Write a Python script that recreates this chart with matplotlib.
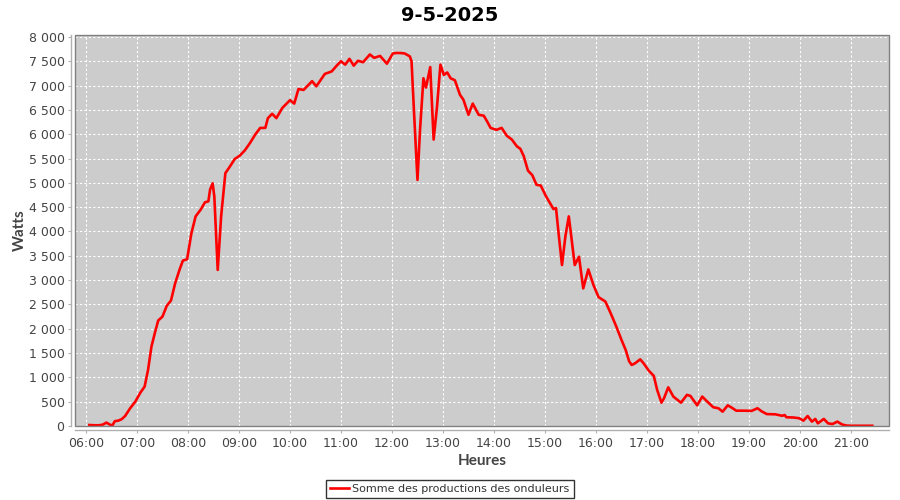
import matplotlib
matplotlib.use("Agg")
import matplotlib.pyplot as plt
from matplotlib.ticker import FuncFormatter, FixedLocator, MultipleLocator
from matplotlib.patches import Rectangle
from matplotlib.lines import Line2D

title = "9-5-2025"
x_label = "Heures"
y_label = "Watts"
series_name = "Somme des productions des onduleurs"

times = ["06:04", "06:10", "06:16", "06:20", "06:24", "06:28", "06:31", "06:34", "06:38", "06:42",
         "06:46", "06:52", "06:58", "07:04", "07:09", "07:13", "07:17", "07:21", "07:25", "07:30",
         "07:35", "07:40", "07:45", "07:50", "07:54", "07:59", "08:04", "08:09", "08:15", "08:20",
         "08:24", "08:26", "08:29", "08:31", "08:35", "08:39", "08:44", "08:48", "08:55", "09:01",
         "09:07", "09:13", "09:19", "09:25", "09:31", "09:34", "09:39", "09:44", "09:51", "10:00",
         "10:05", "10:10", "10:16", "10:26", "10:31", "10:41", "10:49", "10:55", "11:00", "11:05",
         "11:10", "11:15", "11:20", "11:26", "11:34", "11:39", "11:46", "11:54", "12:01", "12:05",
         "12:10", "12:15", "12:21", "12:23", "12:26", "12:30", "12:33", "12:37", "12:40", "12:45",
         "12:49", "12:53", "12:57", "13:01", "13:05", "13:09", "13:14", "13:20", "13:24", "13:30",
         "13:35", "13:42", "13:48", "13:52", "13:56", "14:03", "14:09", "14:15", "14:21", "14:27",
         "14:31", "14:35", "14:40", "14:45", "14:50", "14:55", "15:01", "15:06", "15:10", "15:13",
         "15:16", "15:20", "15:24", "15:28", "15:30", "15:35", "15:40", "15:45", "15:51", "15:57",
         "16:03", "16:11", "16:17", "16:24", "16:30", "16:35", "16:39", "16:42", "16:46", "16:52",
         "16:56", "17:02", "17:08", "17:12", "17:17", "17:20", "17:25", "17:31", "17:40", "17:47",
         "17:51", "17:59", "18:05", "18:11", "18:18", "18:24", "18:29", "18:35", "18:39", "18:45",
         "18:55", "19:03", "19:10", "19:15", "19:21", "19:31", "19:39", "19:42", "19:44", "19:52",
         "19:59", "20:04", "20:09", "20:14", "20:18", "20:21", "20:28", "20:33", "20:38", "20:44",
         "20:49", "20:54", "21:00", "21:05", "21:10", "21:15", "21:20", "21:25"]

watts = [20, 15, 15, 30, 70, 30, 10, 100, 110, 140,
         205, 365, 500, 685, 810, 1150, 1630, 1910, 2170, 2250,
         2470, 2580, 2940, 3210, 3400, 3430, 3960, 4310, 4450, 4600,
         4620, 4860, 4990, 4720, 3210, 4310, 5200, 5300, 5490, 5560,
         5670, 5820, 5990, 6130, 6130, 6330, 6420, 6330, 6540, 6700,
         6630, 6930, 6910, 7090, 6985, 7240, 7290, 7410, 7500, 7430,
         7550, 7410, 7510, 7480, 7640, 7570, 7610, 7450, 7660, 7670,
         7670, 7660, 7600, 7500, 6430, 5060, 6090, 7150, 6960, 7380,
         5890, 6570, 7430, 7220, 7270, 7150, 7110, 6810, 6710, 6400,
         6630, 6400, 6380, 6260, 6130, 6090, 6130, 5970, 5890, 5750,
         5700, 5550, 5250, 5160, 4960, 4945, 4730, 4580, 4460, 4480,
         3960, 3310, 3900, 4310, 4030, 3310, 3480, 2830, 3220, 2900,
         2650, 2560, 2330, 2040, 1770, 1560, 1330, 1255, 1290, 1370,
         1290, 1140, 1030, 740, 480, 570, 795, 605, 480, 640,
         620, 425, 605, 500, 385, 365, 295, 425, 385, 315,
         315, 310, 365, 300, 245, 240, 210, 225, 180, 175,
         160, 110, 205, 90, 145, 55, 145, 55, 40, 90,
         35, 10, 5, 5, 5, 5, 5, 5]

hour_ticks = list(range(6, 22))
hour_labels = [f"{h:02d}:00" for h in hour_ticks]


def to_hours(s):
    h, m = s.split(":")
    return int(h) + int(m) / 60.0


x = [to_hours(t) for t in times]

plt.rcParams['font.family'] = ['DejaVu Sans']

fig = plt.figure(figsize=(9, 5), dpi=100)
fig.patch.set_facecolor("white")
ax = fig.add_axes([75 / 900, 74 / 500, 814 / 900, 391 / 500])
ax.set_facecolor("#cccccc")

ax.plot(x, watts, color="#ff0000", lw=1.9, solid_joinstyle="round", zorder=3)

ax.set_xlim(5.785, 21.745)
ax.set_ylim(0, 8040)

ax.xaxis.set_major_locator(FixedLocator(hour_ticks))
ax.set_xticklabels(hour_labels)
ax.yaxis.set_major_locator(MultipleLocator(500))
ax.yaxis.set_major_formatter(FuncFormatter(lambda v, p: f"{v:,.0f}".replace(",", " ")))

ax.grid(True, color="white", linestyle=(0, (2, 2)), linewidth=0.8)
ax.set_axisbelow(True)

for s in ["top", "right"]:
    ax.spines[s].set_visible(False)
for s in ["left", "bottom"]:
    ax.spines[s].set_position(("outward", 3))
    ax.spines[s].set_color("#b0b0b0")
    ax.spines[s].set_linewidth(1.0)

ax.add_patch(Rectangle((0, 0), 1, 1, transform=ax.transAxes, fill=False,
                       edgecolor="#808080", linewidth=1.0, clip_on=False, zorder=5))

ax.tick_params(axis="both", colors="#b0b0b0", labelcolor="#444444", labelsize=9, length=2.5, width=0.8)
ax.tick_params(axis="y", pad=2)
ax.tick_params(axis="x", pad=2.5)

ax.set_xlabel(x_label, fontsize=11, color="#444444", fontweight="bold", family=["Lato", "DejaVu Sans"], labelpad=3)
ax.set_ylabel(y_label, fontsize=11, color="#444444", fontweight="bold", family=["Lato", "DejaVu Sans"], labelpad=1)

fig.suptitle(title, x=0.5, y=0.988, fontsize=14, fontweight="bold", color="black")

handle = Line2D([], [], color="#ff0000", lw=1.9)
leg = fig.legend([handle], [series_name], loc="lower center", bbox_to_anchor=(0.5, 0.0),
                 frameon=True, fancybox=False, fontsize=8, handlelength=1.7,
                 handletextpad=0.3, borderpad=0.35, borderaxespad=0.2)
leg.get_frame().set_edgecolor("black")
leg.get_frame().set_linewidth(1.0)
for t in leg.get_texts():
    t.set_color("#333333")

fig.savefig("out.png", dpi=100, facecolor="white")
